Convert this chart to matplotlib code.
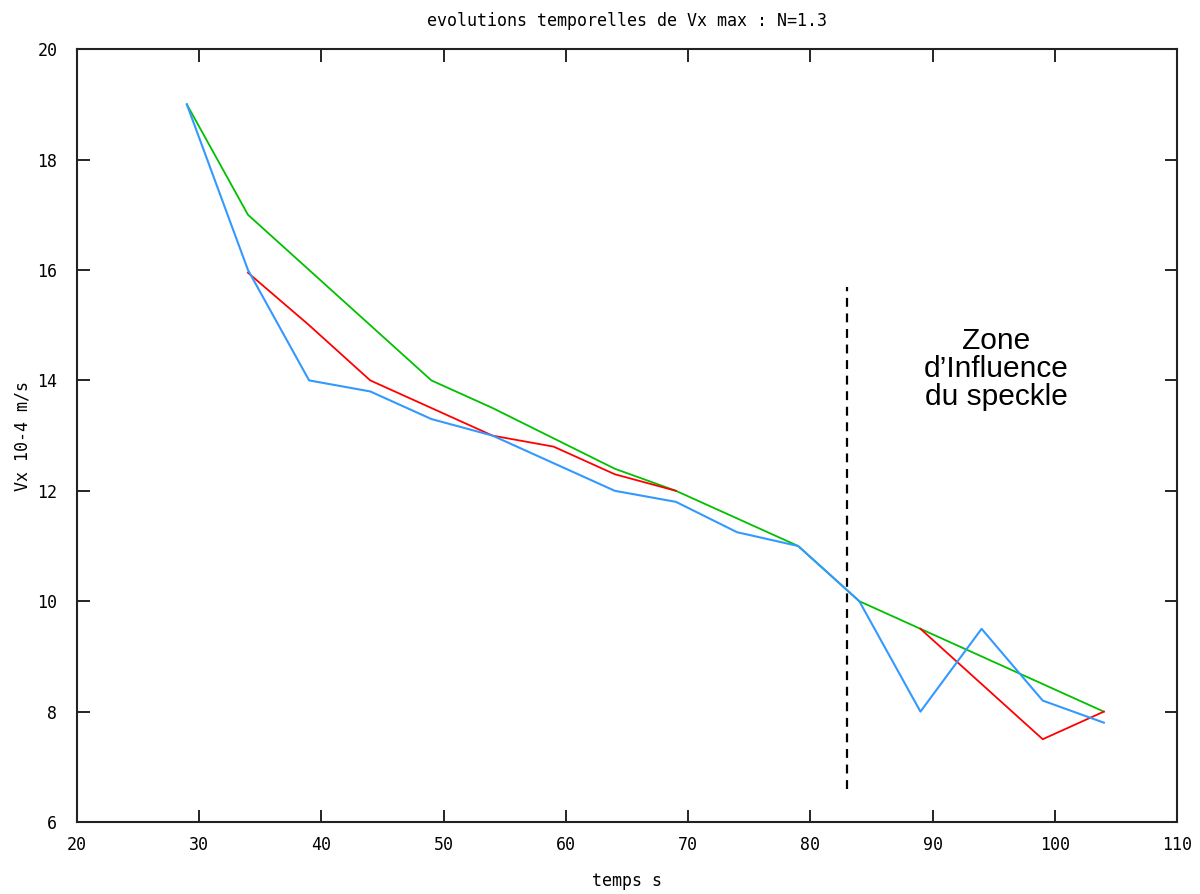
import matplotlib
matplotlib.use("Agg")
import matplotlib.pyplot as plt

title = "evolutions temporelles de Vx max : N=1.3"
xlabel = "temps s"
ylabel = "Vx 10-4 m/s"

t_green = [29, 34, 39, 44, 49, 54, 59, 64, 69, 74, 79, 84, 89, 94, 99, 104]
v_green = [19, 17, 16, 15, 14, 13.5, 12.95, 12.4, 12, 11.5, 11, 10, 9.5, 9, 8.5, 8]

t_red_a = [34, 39, 44, 49, 54, 59, 64, 69]
v_red_a = [15.95, 15, 14, 13.5, 13, 12.8, 12.3, 12]
t_red_b = [89, 94, 99, 104]
v_red_b = [9.5, 8.5, 7.5, 8]

t_blue = [29, 34, 39, 44, 49, 54, 59, 64, 69, 74, 79, 84, 89, 94, 99, 104]
v_blue = [19, 16, 14, 13.8, 13.3, 13, 12.5, 12, 11.8, 11.25, 11, 10, 8, 9.5, 8.2, 7.8]

zone_x = 83
zone_y = [6.6, 15.7]
zone_text = "Zone\nd\u2019Influence\ndu speckle"

xticks = list(range(20, 111, 10))
yticks = list(range(6, 21, 2))

fig = plt.figure(figsize=(12, 8.94), dpi=100)
ax = fig.add_axes([0.064, 0.0805, 0.917, 0.8645])

ax.plot(t_green, v_green, color="#00c000", lw=1.3)
ax.plot(t_red_a, v_red_a, color="#ff0000", lw=1.3)
ax.plot(t_red_b, v_red_b, color="#ff0000", lw=1.3)
ax.plot(t_blue, v_blue, color="#3399ff", lw=1.5)
ax.plot([zone_x, zone_x], zone_y, color="black", lw=1.6, ls=(0, (4, 3)))

ax.text(95.2, 14.2, zone_text, ha="center", va="center", fontsize=21.5,
        family="Liberation Sans", linespacing=1.0)

ax.set_xlim(20, 110)
ax.set_ylim(6, 20)
ax.set_xticks(xticks)
ax.set_yticks(yticks)
mono = "DejaVu Sans Mono"
ax.set_xticklabels([str(v) for v in xticks], family=mono, fontsize=12)
ax.set_yticklabels([str(v) for v in yticks], family=mono, fontsize=12)
ax.tick_params(direction="in", length=9, width=1.2, top=True, right=True)
ax.tick_params(axis="x", pad=10)
ax.tick_params(axis="y", pad=14)
for s in ax.spines.values():
    s.set_linewidth(1.5)
    s.set_color("#222222")

ax.set_title(title, family=mono, fontsize=12, pad=17)
ax.set_xlabel(xlabel, family=mono, fontsize=12, labelpad=13)
ax.set_ylabel(ylabel, family=mono, fontsize=12, labelpad=4)

fig.savefig("out.png", dpi=100)
